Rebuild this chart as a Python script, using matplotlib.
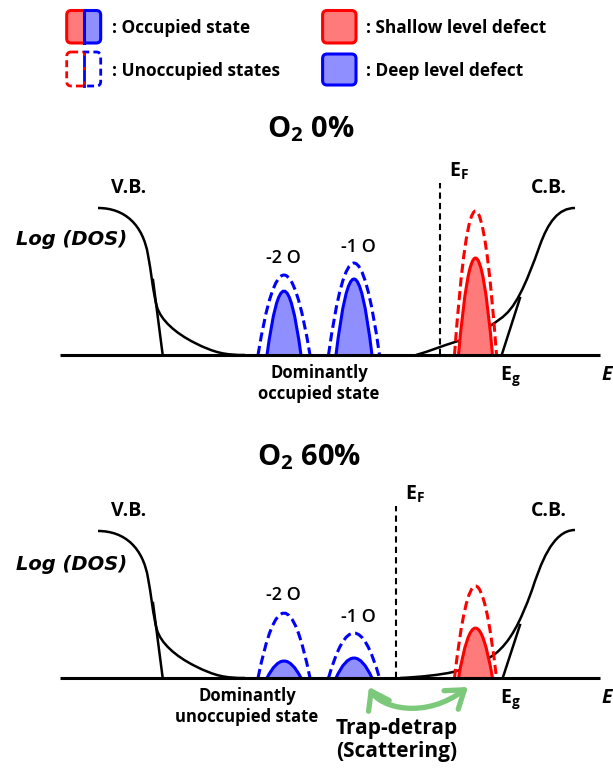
import matplotlib
matplotlib.use("Agg")
import matplotlib.pyplot as plt
from matplotlib.path import Path
from matplotlib.patches import PathPatch, FancyBboxPatch, FancyArrowPatch, Rectangle

plt.rcParams['font.family'] = ['Open Sans', 'DejaVu Sans']
plt.rcParams['mathtext.fontset'] = 'custom'
plt.rcParams['mathtext.rm'] = 'Open Sans:bold'
plt.rcParams['mathtext.it'] = 'Open Sans:italic:bold'
plt.rcParams['mathtext.bf'] = 'Open Sans:bold'

# ---------------- data ----------------
panel_titles = ["O$_\\mathrm{2}$ 0%", "O$_\\mathrm{2}$ 60%"]
state_notes = ["Dominantly\noccupied state", "Dominantly\nunoccupied state"]
deep_labels = ["-2 O", "-1 O"]

# deep level defects (-2 O, -1 O): centre, half-width at base, height
deep_center = [284, 354]
deep_total_halfwidth = [26, 25.5]
deep_occ_halfwidth = [17, 18]
deep_total_height_0 = [80, 92]      # O2 0 %
deep_occ_height_0 = [64, 76]
deep_total_height_60 = [65, 45]     # O2 60 %
deep_occ_height_60 = [17, 20]

# shallow level defect: centre, half-width, heights
shallow_center = 475.5
shallow_total_halfwidth = 21
shallow_occ_halfwidth = 17
shallow_total_height = [144, 92]
shallow_occ_height = [97, 50]

# Fermi level position per panel
fermi_level = [440, 396]

# valence band edge (cubic Bezier control points)
vb_x = [98, 125, 143, 148, 151, 153, 157, 161, 175, 195, 215, 225, 245]
vb_y = [147, 147, 130, 100, 85, 62, 48, 35, 22, 12, 2, 0, 0]
vb_tangent_x = [153, 162.7]
vb_tangent_y = [75, 0]

# conduction band edge (cubic Bezier control points), one per panel
cb_x_0 = [416, 430, 442, 455, 475, 488, 500, 515, 525, 540, 548, 558, 575]
cb_y_0 = [0, 4, 9, 13, 19, 27, 36, 46, 68, 110, 132, 147, 147]
cb_x_60 = [400, 420, 440, 453, 468, 482, 495, 510, 520, 532, 540, 552, 575]
cb_y_60 = [0, 1, 3, 6, 10, 15, 24, 36, 55, 88, 112, 148, 148]
cb_tangent_x = [[501.7, 520], [502.7, 520]]
cb_tangent_y = [[0, 57], [0, 53]]

axis_x = [60, 600]
# trap / detrap arrow (cubic Bezier control points, lower panel)
trap_x = [369, 380, 425, 468]
trap_y = [-9, -30, -42, -9]

# ---------------- style ----------------
RED = "#ff0000"
RED_FILL = "#ff7b7b"
BLUE = "#0000ff"
BLUE_FILL = "#8f8fff"
GREEN = "#7cc97c"
DASH = (0, (3, 1.5))

W, H = 613, 768
fig = plt.figure(figsize=(W / 100, H / 100), dpi=100)

# overlay in pixel units for the key and titles
ov = fig.add_axes([0, 0, 1, 1])
ov.set_xlim(0, W)
ov.set_ylim(H, 0)
ov.axis("off")


def rbox(x, y, w, h, fc, ec, ls="-", clip=None, lw=2.2):
    p = FancyBboxPatch((x, y), w, h, boxstyle="round,pad=0,rounding_size=4.5",
                       fc=fc, ec=ec, lw=lw, ls=ls, zorder=3)
    ov.add_patch(p)
    if clip is not None:
        r = Rectangle(clip[0], clip[1], clip[2], transform=ov.transData)
        p.set_clip_path(r)
    return p


# occupied key: split red / blue
rbox(66.7, 10.5, 34, 32.5, RED_FILL, RED, clip=((0, 0), 83.5, 100))
rbox(66.7, 10.5, 34, 32.5, BLUE_FILL, BLUE, clip=((83.5, 0), 100, 100))
ov.plot([83.5, 83.5], [10.5, 43], color=BLUE, lw=2.2, zorder=4)
# unoccupied key: dashed outline
rbox(66.7, 52, 34, 34, "none", RED, ls=(0, (2.5, 1.5)), clip=((0, 0), 84, 100), lw=2)
rbox(66.7, 52, 34, 34, "none", BLUE, ls=(0, (2.5, 1.5)), clip=((84, 0), 100, 100), lw=2)
ov.plot([84, 84], [52, 86], color=BLUE, lw=2, zorder=4)
ov.plot([84, 84], [52, 86], color=RED, lw=2, ls=(0, (1.2, 4)), zorder=4.5)
# defect keys
rbox(322.6, 10.5, 33.4, 32.5, RED_FILL, RED)
rbox(322.6, 54, 33.4, 31, BLUE_FILL, BLUE)

key_font = dict(fontsize=12.4, fontweight="bold", va="center", ha="left")
ov.text(112, 28, ": Occupied state", **key_font)
ov.text(112, 71, ": Unoccupied states", **key_font)
ov.text(366, 28, ": Shallow level defect", **key_font)
ov.text(366, 71, ": Deep level defect", **key_font)

ov.text(311, 137, panel_titles[0], fontsize=21, fontweight="bold",
        ha="center", va="baseline")
ov.text(309, 465, panel_titles[1], fontsize=21, fontweight="bold",
        ha="center", va="baseline")


def bezier(xs, ys):
    verts = list(zip(xs, ys))
    codes = [Path.MOVETO] + [Path.CURVE4] * (len(verts) - 1)
    return Path(verts, codes)


def peak(ax, c, hw, h, fill, ec, ls, z):
    path = Path([(c - hw, 0), (c, 2 * h), (c + hw, 0)],
                [Path.MOVETO, Path.CURVE3, Path.CURVE3])
    if fill:
        ax.add_patch(PathPatch(path, fc=fill, ec="none", zorder=z))
    ax.add_patch(PathPatch(path, fc="none", ec=ec, lw=2.2, ls=ls,
                           zorder=z + 0.1, capstyle="butt"))


def panel(rect, idx):
    ax = fig.add_axes(rect)
    ax.set_xlim(0, W)
    ax.set_ylim(-65, 215)
    ax.axis("off")

    # band edges
    ax.add_patch(PathPatch(bezier(vb_x, vb_y), fc="none", ec="black", lw=1.8, zorder=2))
    ax.plot(vb_tangent_x, vb_tangent_y, color="black", lw=1.8, zorder=2)
    cbx, cby = (cb_x_0, cb_y_0) if idx == 0 else (cb_x_60, cb_y_60)
    ax.add_patch(PathPatch(bezier(cbx, cby), fc="none", ec="black", lw=1.8, zorder=2))
    ax.plot(cb_tangent_x[idx], cb_tangent_y[idx], color="black", lw=1.8, zorder=2)

    # deep level defects
    tot = deep_total_height_0 if idx == 0 else deep_total_height_60
    occ = deep_occ_height_0 if idx == 0 else deep_occ_height_60
    for c, thw, ohw, th, oh in zip(deep_center, deep_total_halfwidth,
                                   deep_occ_halfwidth, tot, occ):
        peak(ax, c, ohw, oh, BLUE_FILL, BLUE, "-", 4)
        peak(ax, c, thw, th, None, BLUE, DASH, 4)

    # shallow level defect
    peak(ax, shallow_center, shallow_occ_halfwidth, shallow_occ_height[idx],
         RED_FILL, RED, "-", 4)
    peak(ax, shallow_center, shallow_total_halfwidth, shallow_total_height[idx],
         None, RED, DASH, 4)

    # energy axis
    ax.plot(axis_x, [0, 0], color="black", lw=2.2, zorder=6, solid_capstyle="butt")

    # Fermi level
    ef = fermi_level[idx]
    ax.plot([ef, ef], [0, 172], color="black", lw=1.5, ls=(0, (3, 2)), zorder=5)

    lab = dict(fontsize=14, fontweight="bold")
    ax.text(129, 162, "V.B.", ha="center", va="baseline", **lab)
    ax.text(549, 162, "C.B.", ha="center", va="baseline", **lab)
    ax.text(72, 110 if idx == 0 else 108, "Log (DOS)", ha="center", va="baseline",
            fontsize=14, fontweight="bold", style="italic", family="DejaVu Sans")
    ax.text(ef + 9, 178, "E$_\\mathrm{F}$", ha="left", va="baseline", **lab)
    ax.text(500, -25, "E$_\\mathrm{g}$", ha="left", va="baseline", **lab)
    ax.text(601, -25, "E", ha="left", va="baseline", fontsize=14,
            fontweight="bold", style="italic")

    ylab = [92, 103] if idx == 0 else [78, 56]
    for c, t, yy in zip([283, 358], deep_labels, ylab):
        ax.text(c, yy, t, ha="center", va="baseline", fontsize=13,
                fontweight="semibold")

    nx = 319 if idx == 0 else 247
    ax.text(nx, -9, state_notes[idx], ha="center", va="top", fontsize=12,
            fontweight="bold", linespacing=1.2)
    return ax


panel([0, 1 - 420 / H, 1, 280 / H], 0)
axb = panel([0, 1 - 743 / H, 1, 280 / H], 1)

# trap / detrap arrow between deep and shallow states
trap_path = Path(list(zip(trap_x, trap_y)),
                 [Path.MOVETO, Path.CURVE4, Path.CURVE4, Path.CURVE4])
arr = FancyArrowPatch(path=trap_path,
                      arrowstyle="<->,head_length=1.0,head_width=0.7",
                      mutation_scale=12, color=GREEN, lw=3.8, zorder=7,
                      capstyle="round", joinstyle="round")
axb.add_patch(arr)
axb.text(397, -40, "Trap-detrap\n(Scattering)", ha="center", va="top",
         fontsize=15, fontweight="bold", linespacing=1.1)

fig.savefig("out.png", dpi=100)
